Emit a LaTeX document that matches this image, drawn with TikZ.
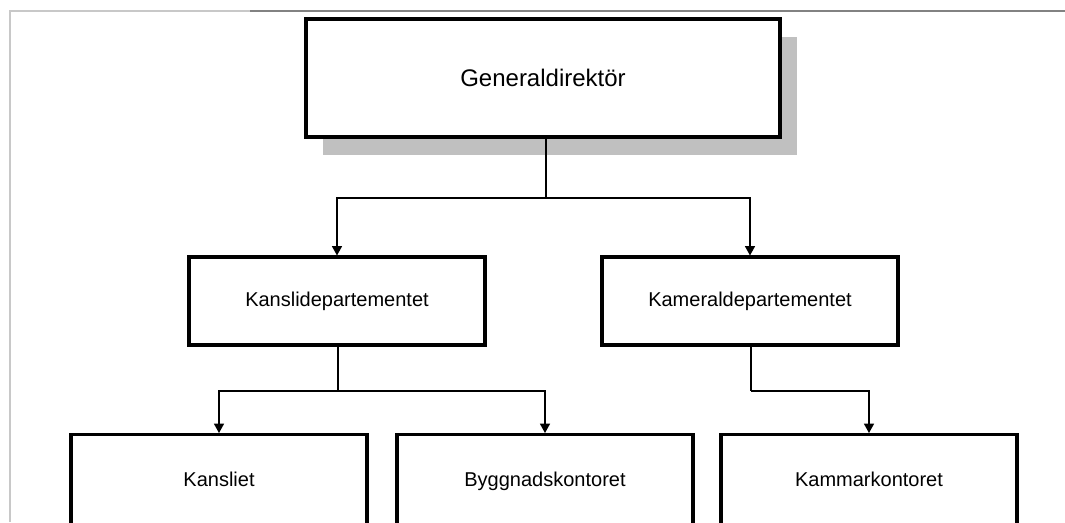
\documentclass[tikz,border=0pt]{standalone}
\usepackage{fontspec}
\setmainfont{Liberation Sans}
\usetikzlibrary{arrows.meta,shadows}
\definecolor{shadowgray}{RGB}{192,192,192}
\definecolor{framelight}{RGB}{200,200,200}
\definecolor{framedark}{RGB}{130,130,130}
\begin{document}
\begin{tikzpicture}[x=0.75pt,y=-0.75pt,
  box/.style={draw=black,line width=2.3pt,fill=white,rectangle,inner sep=0pt,
    minimum width=222pt,minimum height=66pt,font=\fontsize{15}{18}\selectfont},
  topbox/.style={box,minimum width=355.5pt,minimum height=88.5pt,
    font=\fontsize{18}{22}\selectfont,
    drop shadow={shadow xshift=13pt,shadow yshift=-13.5pt,fill=shadowgray,opacity=1}},
  lowbox/.style={box,minimum height=78pt,anchor=north},
  conn/.style={draw=black,line width=1pt},
  arr/.style={conn,-{Triangle[width=7.5pt,length=7pt]}},
  frame/.style={line width=1pt}]
\useasboundingbox (0,0) rectangle (1065,522);
% page frame lines
\draw[frame,framelight] (10,522) -- (10,11) -- (250,11);
\draw[frame,framedark] (250,11) -- (1065,11);
% nodes
\node[topbox] (gd) at (543,78) {Generaldirektör};
\node[box] (kd) at (337,301) {Kanslidepartementet};
\node[box] (kmd) at (750,301) {Kameraldepartementet};
\node[lowbox] (ka) at (219,433) {\raisebox{10.5pt}{Kansliet}};
\node[lowbox] (by) at (545,433) {\raisebox{10.5pt}{Byggnadskontoret}};
\node[lowbox] (km) at (869,433) {\raisebox{10.5pt}{Kammarkontoret}};
% junctions
\coordinate (j1) at (546,198);
\coordinate (j2) at (338,391);
\coordinate (j3) at (751,391);
% connectors
\draw[conn] (gd.south -| j1) -- (j1);
\draw[arr] (j1) -| (kd.north);
\draw[arr] (j1) -| (kmd.north);
\draw[conn] (kd.south -| j2) -- (j2);
\draw[arr] (j2) -| (ka.north);
\draw[arr] (j2) -| (by.north);
\draw[conn] (kmd.south -| j3) -- (j3);
\draw[arr] (j3) -| (km.north);
\end{tikzpicture}
\end{document}
